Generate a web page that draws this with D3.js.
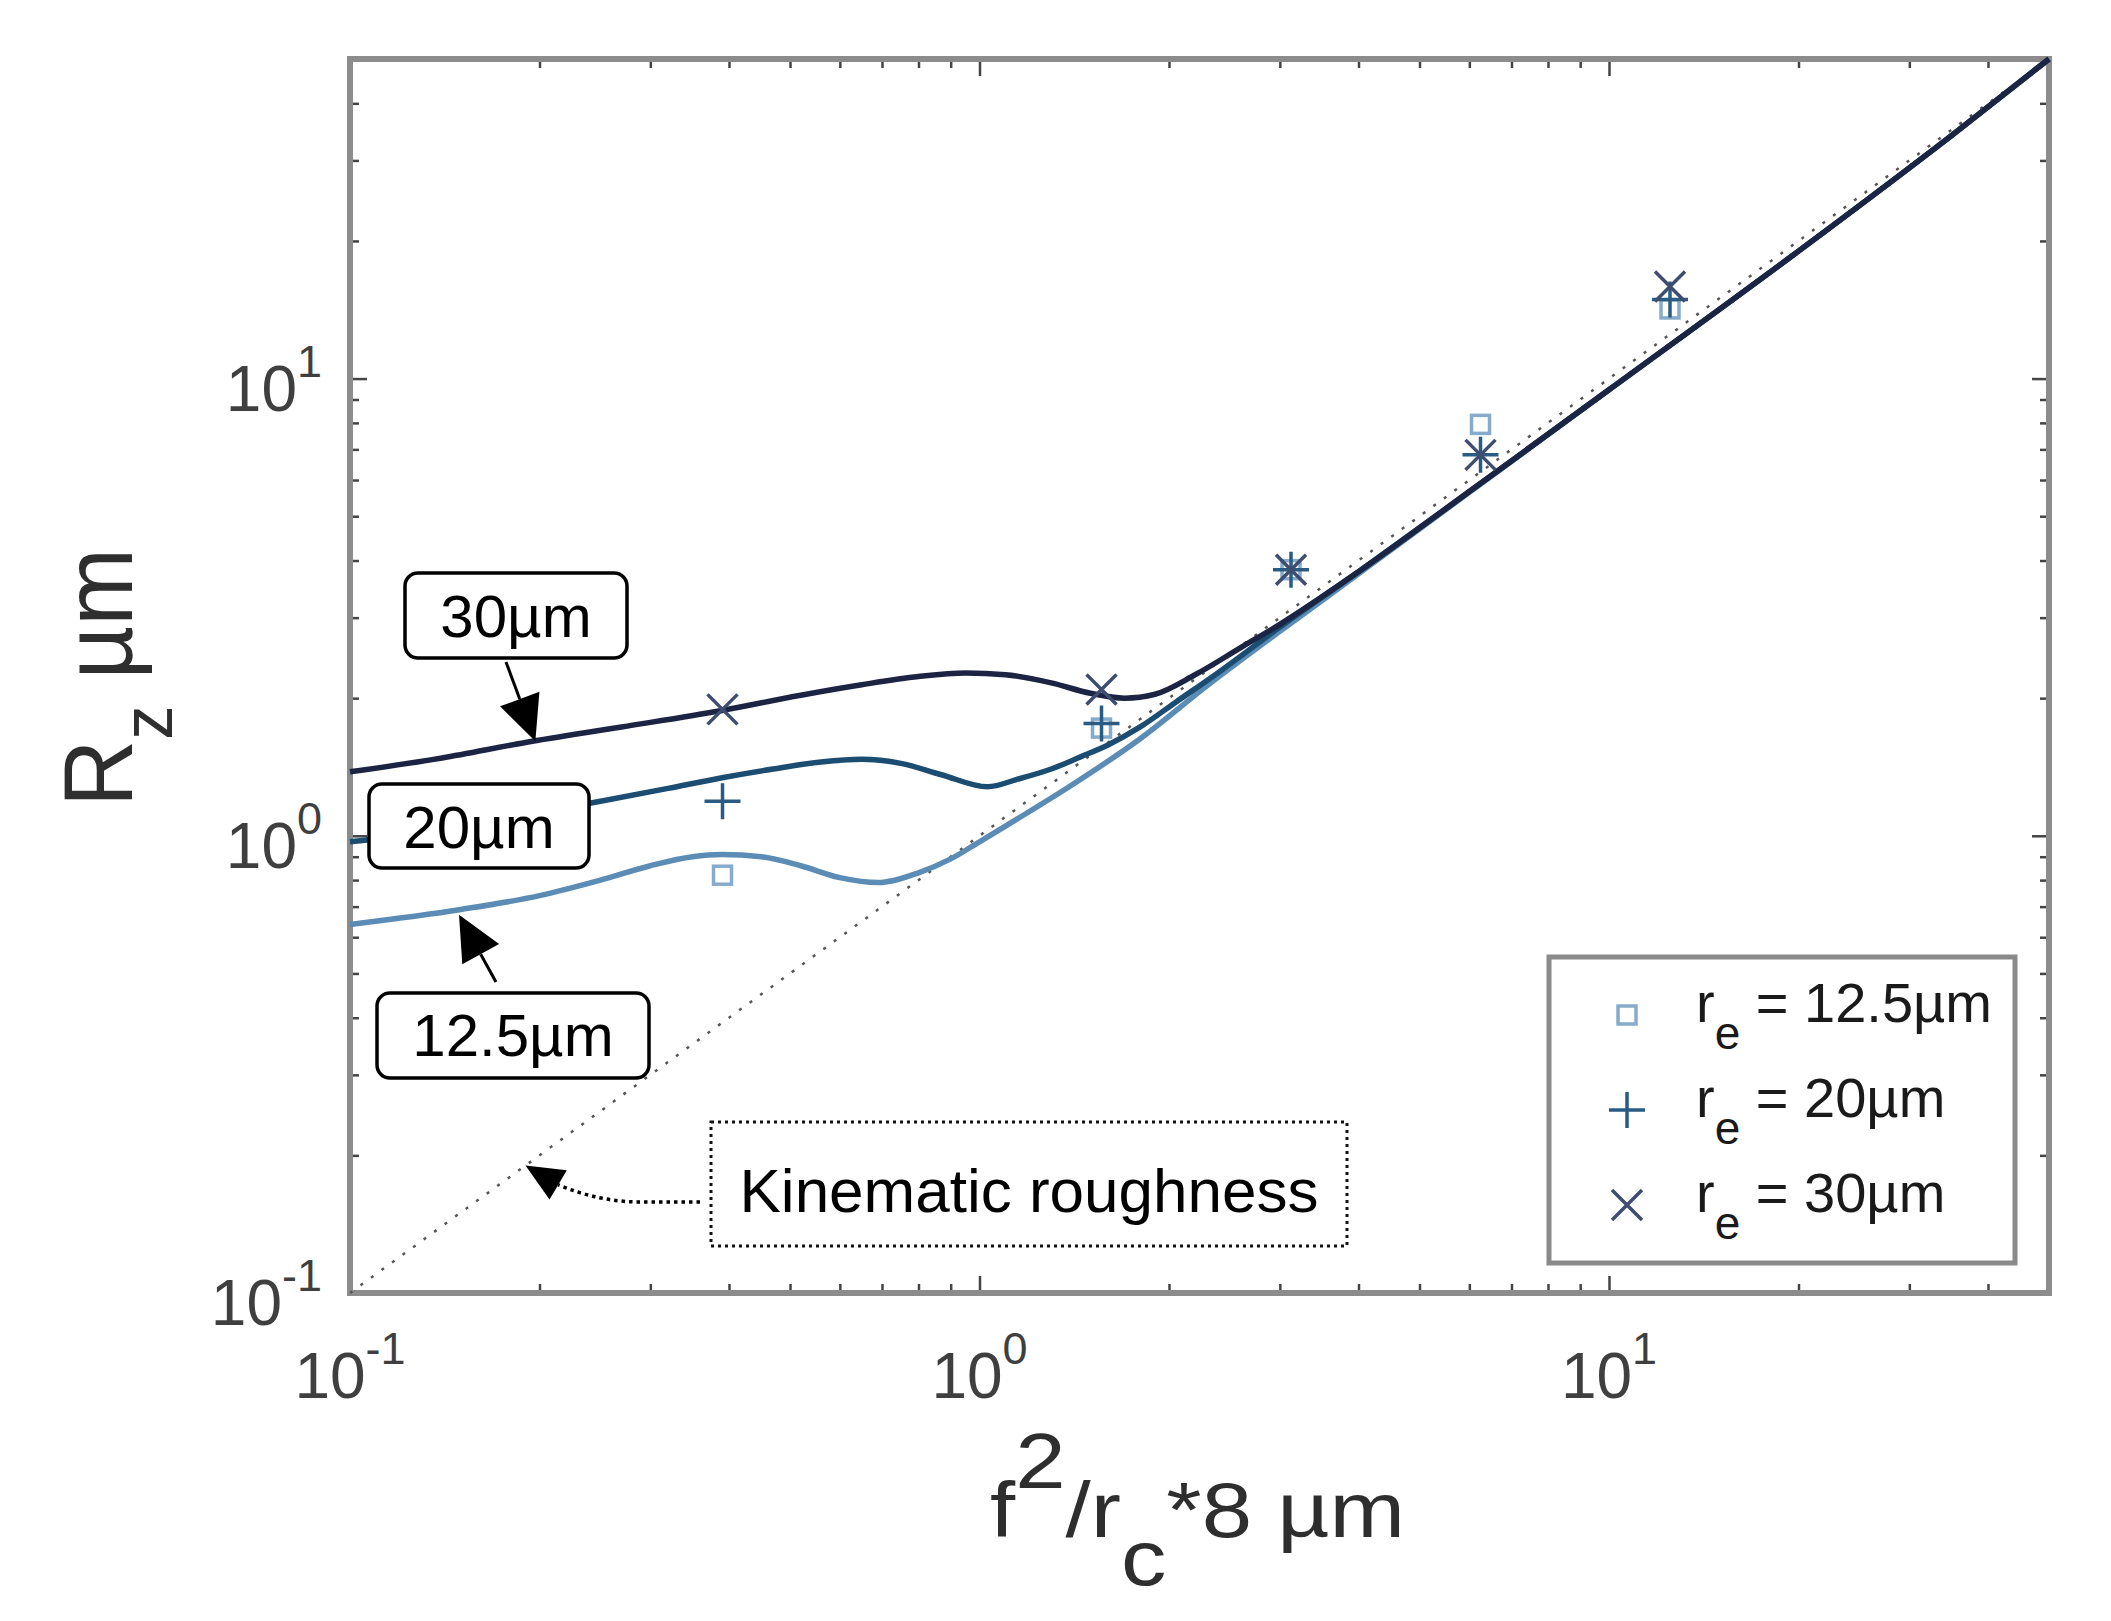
<!DOCTYPE html>
<html>
<head>
<meta charset="utf-8">
<script src="https://cdn.jsdelivr.net/npm/d3@7"></script>
<style>
  html, body { margin: 0; padding: 0; background: #fff; }
  svg { display: block; font-family: "Liberation Sans", Arial, Helvetica, sans-serif; }
</style>
</head>
<body>
<div id="chart"></div>
<script>
// measured Rz at the tested feeds (x = f^2/rc*8)
const markerX = [0.390625, 1.5625, 3.125, 6.25, 12.5];
const rz125 = [0.82, 1.72, 3.82, 7.94, 14.2];
const rz20 = [1.19, 1.76, 3.82, 6.81, 14.9];
const rz30 = [1.89, 2.09, 3.82, 6.81, 15.9];

// simulated curves
const curveX30 = [0.1, 0.14, 0.19, 0.27, 0.39, 0.52, 0.65, 0.8, 0.95, 1.1, 1.3, 1.5, 1.7, 1.9, 2.2, 2.6, 3.0, 4, 6, 10, 20, 35, 50];
const curveY30 = [1.38, 1.48, 1.60, 1.73, 1.88, 2.03, 2.14, 2.23, 2.27, 2.25, 2.16, 2.05, 2.0, 2.04, 2.25, 2.58, 2.9, 3.78, 5.66, 9.45, 19, 34, 50];

const curveX20 = [0.1, 0.14, 0.19, 0.25, 0.32, 0.39, 0.47, 0.56, 0.65, 0.75, 0.87, 1.03, 1.15, 1.3, 1.45, 1.6, 1.8, 2.05, 2.4, 3.0, 4, 6, 10, 20, 35, 50];
const curveY20 = [0.97, 1.03, 1.11, 1.19, 1.27, 1.34, 1.40, 1.45, 1.47, 1.44, 1.36, 1.28, 1.33, 1.40, 1.49, 1.58, 1.73, 1.96, 2.28, 2.86, 3.78, 5.66, 9.45, 19, 34, 50];

const curveX125 = [0.1, 0.15, 0.2, 0.25, 0.3, 0.35, 0.39, 0.45, 0.52, 0.6, 0.69, 0.8, 0.9, 1.0, 1.15, 1.4, 1.8, 2.3, 3.0, 4, 6, 10, 20, 35, 50];
const curveY125 = [0.64, 0.69, 0.74, 0.80, 0.86, 0.90, 0.91, 0.90, 0.86, 0.81, 0.79, 0.83, 0.89, 0.97, 1.09, 1.29, 1.63, 2.13, 2.80, 3.74, 5.64, 9.45, 19, 34, 50];

// kinematic roughness Rz = f^2/(8 rc)
const kinematicX = [0.1, 50];
const kinematicY = [0.1, 50];

const tickValues = [0.1, 1, 10];
const tickExponents = ["-1", "0", "1"];
const legendLabels = ["12.5µm", "20µm", "30µm"];
const curveLabels = ["30µm", "20µm", "12.5µm"];

const W = 2111, H = 1621;
const margin = { top: 59, right: 62, bottom: 328, left: 350 };
const width = W - margin.left - margin.right;
const height = H - margin.top - margin.bottom;

const colors = { c30: "#1c2444", c20: "#1b4c72", c125: "#5a8cb5", sq: "#86abcb", plus: "#2a5b82", cross: "#3e4c70" };

const svg = d3.select("#chart").append("svg")
  .attr("width", W)
  .attr("height", H);

const xScale = d3.scaleLog().domain([0.1, 50]).range([margin.left, margin.left + width]);
const yScale = d3.scaleLog().domain([0.1, 50]).range([margin.top + height, margin.top]);

// Minor ticks for a log axis
const minorTicks = [];
[0.1, 1, 10].forEach(base => {
  for (let k = 2; k <= 9; k++) {
    const v = base * k;
    if (v <= 50) minorTicks.push(v);
  }
});

const axisG = svg.append("g");

function tickAxes(values, len) {
  axisG.append("g")
    .attr("transform", `translate(0,${margin.top + height})`)
    .call(d3.axisBottom(xScale).tickValues(values).tickSize(-len).tickFormat(""));
  axisG.append("g")
    .attr("transform", `translate(0,${margin.top})`)
    .call(d3.axisTop(xScale).tickValues(values).tickSize(-len).tickFormat(""));
  axisG.append("g")
    .attr("transform", `translate(${margin.left},0)`)
    .call(d3.axisLeft(yScale).tickValues(values).tickSize(-len).tickFormat(""));
  axisG.append("g")
    .attr("transform", `translate(${margin.left + width},0)`)
    .call(d3.axisRight(yScale).tickValues(values).tickSize(-len).tickFormat(""));
}
tickAxes(tickValues, 17);
tickAxes(minorTicks, 9);
axisG.selectAll(".domain").remove();
axisG.selectAll("line").attr("stroke", "#444").attr("stroke-width", 2.5);

// Box
svg.append("rect")
  .attr("x", margin.left)
  .attr("y", margin.top)
  .attr("width", width)
  .attr("height", height)
  .attr("fill", "none")
  .attr("stroke", "#8c8c8c")
  .attr("stroke-width", 6);

// Tick labels with exponents
const xLab = svg.append("g").attr("fill", "#3f3f3f").attr("font-size", 64);
tickValues.forEach((v, i) => {
  const t = xLab.append("text")
    .attr("x", xScale(v))
    .attr("y", margin.top + height + 105)
    .attr("text-anchor", "middle");
  t.append("tspan").text("10");
  t.append("tspan").attr("font-size", 45).attr("dy", -34).text(tickExponents[i]);
});
const yLab = svg.append("g").attr("fill", "#3f3f3f").attr("font-size", 64);
tickValues.forEach((v, i) => {
  const t = yLab.append("text")
    .attr("x", margin.left - 28)
    .attr("y", yScale(v) + 32)
    .attr("text-anchor", "end");
  t.append("tspan").text("10");
  t.append("tspan").attr("font-size", 45).attr("dy", -34).text(tickExponents[i]);
});

// Axis titles
const xTitle = svg.append("text")
  .attr("x", 990)
  .attr("y", 1537)
  .attr("font-size", 78)
  .attr("fill", "#2e2e2e")
  .attr("textLength", 415)
  .attr("lengthAdjust", "spacingAndGlyphs");
xTitle.append("tspan").text("f");
xTitle.append("tspan").attr("dy", -49).text("2");
xTitle.append("tspan").attr("dy", 49).text("/r");
xTitle.append("tspan").attr("dy", 48).text("c");
xTitle.append("tspan").attr("dy", -48).text("*8 µm");

const yTitle = svg.append("text")
  .attr("transform", "translate(132,807) rotate(-90)")
  .attr("font-size", 98)
  .attr("fill", "#2e2e2e")
  .attr("textLength", 259)
  .attr("lengthAdjust", "spacingAndGlyphs");
yTitle.append("tspan").text("R");
yTitle.append("tspan").attr("font-size", 72).attr("dy", 40).text("z");
yTitle.append("tspan").attr("dy", -40).text(" µm");

// Kinematic line
const line = d3.line()
  .x(d => xScale(d[0]))
  .y(d => yScale(d[1]));

svg.append("path")
  .datum(d3.zip(kinematicX, kinematicY))
  .attr("fill", "none")
  .attr("stroke", "#555")
  .attr("stroke-width", 2.5)
  .attr("stroke-dasharray", "3,10")
  .attr("d", line);

// Model curves
const smooth = d3.line()
  .x(d => xScale(d[0]))
  .y(d => yScale(d[1]))
  .curve(d3.curveMonotoneX);

[[curveX125, curveY125, colors.c125], [curveX20, curveY20, colors.c20], [curveX30, curveY30, colors.c30]]
  .forEach(([xs, ys, c]) => {
    svg.append("path")
      .datum(d3.zip(xs, ys))
      .attr("fill", "none")
      .attr("stroke", c)
      .attr("stroke-width", 5.5)
      .attr("stroke-linejoin", "round")
      .attr("d", smooth);
  });

// Markers
function marker(g, type, cx, cy) {
  if (type === "square") {
    g.append("rect")
      .attr("x", cx - 9).attr("y", cy - 9)
      .attr("width", 18).attr("height", 18)
      .attr("fill", "none").attr("stroke", colors.sq).attr("stroke-width", 3.5);
  } else if (type === "plus") {
    g.append("path")
      .attr("d", `M${cx - 18},${cy}H${cx + 18}M${cx},${cy - 18}V${cy + 18}`)
      .attr("stroke", colors.plus).attr("stroke-width", 3.5);
  } else {
    g.append("path")
      .attr("d", `M${cx - 15},${cy - 15}L${cx + 15},${cy + 15}M${cx - 15},${cy + 15}L${cx + 15},${cy - 15}`)
      .attr("stroke", colors.cross).attr("stroke-width", 3.5);
  }
}

const markG = svg.append("g");
markerX.forEach((xv, i) => marker(markG, "square", xScale(xv), yScale(rz125[i])));
markerX.forEach((xv, i) => marker(markG, "plus", xScale(xv), yScale(rz20[i])));
markerX.forEach((xv, i) => marker(markG, "cross", xScale(xv), yScale(rz30[i])));

// Annotations
function arrowHead(g, tip, tail, len, half) {
  const dx = tail[0] - tip[0], dy = tail[1] - tip[1];
  const d = Math.hypot(dx, dy);
  const ux = dx / d, uy = dy / d;
  const bx = tip[0] + ux * len, by = tip[1] + uy * len;
  g.append("path")
    .attr("d", `M${tip[0]},${tip[1]}L${bx - uy * half},${by + ux * half}L${bx + uy * half},${by - ux * half}Z`)
    .attr("fill", "#000");
  return [bx, by];
}

const ann = svg.append("g");

function labelBox(x, y, w, h, label, textY) {
  ann.append("rect")
    .attr("x", x).attr("y", y).attr("width", w).attr("height", h)
    .attr("rx", 13)
    .attr("fill", "#fff").attr("stroke", "#000").attr("stroke-width", 3.5);
  ann.append("text")
    .attr("x", x + w / 2).attr("y", textY)
    .attr("text-anchor", "middle")
    .attr("font-size", 60)
    .attr("fill", "#000")
    .text(label);
}

// 30 µm
const tip30 = [xScale(0.197), yScale(1.61)];
const tail30 = [506, 662];
const base30 = arrowHead(ann, tip30, tail30, 45, 21);
ann.append("line").attr("x1", tail30[0]).attr("y1", tail30[1]).attr("x2", base30[0]).attr("y2", base30[1])
  .attr("stroke", "#000").attr("stroke-width", 3);
labelBox(405, 573, 222, 85, curveLabels[0], 637);

// 20 µm
labelBox(369, 784, 220, 84, curveLabels[1], 848);

// 12.5 µm
const tip125 = [xScale(0.149), yScale(0.672)];
const tail125 = [496, 982];
const base125 = arrowHead(ann, tip125, tail125, 45, 21);
ann.append("line").attr("x1", tail125[0]).attr("y1", tail125[1]).attr("x2", base125[0]).attr("y2", base125[1])
  .attr("stroke", "#000").attr("stroke-width", 3);
labelBox(377, 993, 272, 85, curveLabels[2], 1056);

// Kinematic roughness label
ann.append("rect")
  .attr("x", 711).attr("y", 1122).attr("width", 636).attr("height", 124)
  .attr("fill", "#fff").attr("stroke", "#111").attr("stroke-width", 3)
  .attr("stroke-dasharray", "3,4");
ann.append("text")
  .attr("x", 1029).attr("y", 1212)
  .attr("text-anchor", "middle")
  .attr("font-size", 62)
  .attr("fill", "#000")
  .text("Kinematic roughness");

const tipK = [xScale(0.19), yScale(0.19)];
const tailK = [tipK[0] + 44, tipK[1] + 26];
const baseK = arrowHead(ann, tipK, tailK, 38, 17);
ann.append("path")
  .attr("d", `M700,1202 L640,1202 Q600,1202 ${baseK[0]},${baseK[1]}`)
  .attr("fill", "none").attr("stroke", "#000").attr("stroke-width", 3.5)
  .attr("stroke-dasharray", "3.5,4");

// Legend
const leg = svg.append("g");
leg.append("rect")
  .attr("x", 1549).attr("y", 957).attr("width", 466).attr("height", 306)
  .attr("fill", "#fff").attr("stroke", "#8a8a8a").attr("stroke-width", 5);
const legTypes = ["square", "plus", "cross"];
legendLabels.forEach((lab, i) => {
  const cy = 1015 + i * 95;
  marker(leg, legTypes[i], 1627, cy);
  const t = leg.append("text")
    .attr("x", 1696).attr("y", cy + 7)
    .attr("font-size", 56)
    .attr("fill", "#1a1a1a");
  t.append("tspan").text("r");
  t.append("tspan").attr("font-size", 46).attr("dy", 27).text("e");
  t.append("tspan").attr("dy", -27).text(" = " + lab);
});
</script>
</body>
</html>
